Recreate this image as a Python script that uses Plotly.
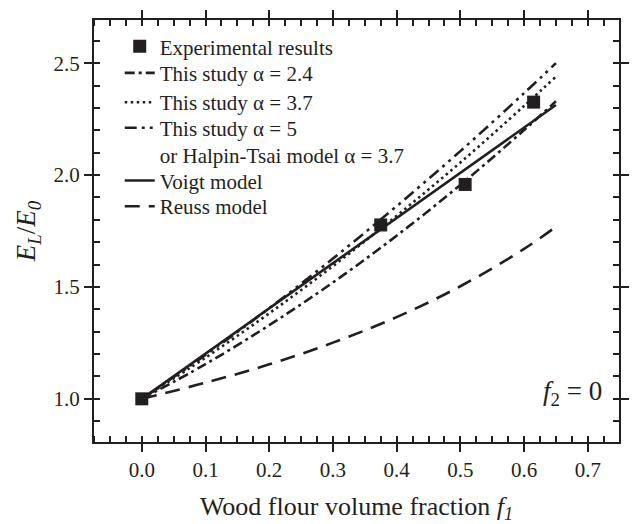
import plotly.graph_objects as go

# ---- data ----
f_exp = [0.0, 0.375, 0.5075, 0.615]
E_exp = [1.0, 1.777, 1.958, 2.326]

f_model = [0.0, 0.1, 0.2, 0.3, 0.4, 0.5, 0.6, 0.65]
E_alpha24 = [1.0, 1.155, 1.329, 1.520, 1.729, 1.956, 2.201, 2.330]
E_alpha37 = [1.0, 1.184, 1.382, 1.593, 1.818, 2.056, 2.309, 2.440]
E_alpha5 = [1.0, 1.196, 1.405, 1.627, 1.861, 2.107, 2.366, 2.500]
E_voigt = [1.0, 1.202, 1.404, 1.606, 1.808, 2.010, 2.212, 2.313]
E_reuss = [1.0, 1.072, 1.154, 1.251, 1.365, 1.503, 1.670, 1.769]

x_ticks = [0.0, 0.1, 0.2, 0.3, 0.4, 0.5, 0.6, 0.7]
y_ticks = [1.0, 1.5, 2.0, 2.5]

INK = "#231f20"
FONT = "Liberation Serif"
LEG_FONT = dict(family=FONT, size=21, color=INK)

fig = go.Figure()

def line_trace(y, name, dash, legend, shape="spline"):
    return go.Scatter(
        x=f_model, y=y, mode="lines", name=name, legend=legend,
        line=dict(color=INK, width=2.6, dash=dash, shape=shape),
    )

fig.add_trace(line_trace(E_alpha24, "This study α = 2.4", "10px,4px,3px,4px", "legend2"))
fig.add_trace(line_trace(E_alpha37, "This study α = 3.7", "2.5px,3.5px", "legend3"))
fig.add_trace(line_trace(E_alpha5, "This study α = 5<br>or Halpin-Tsai model α = 3.7",
                         "12px,5px,3px,5px,3px,5px", "legend4"))
fig.add_trace(line_trace(E_voigt, "Voigt model", "solid", "legend5", shape="linear"))
fig.add_trace(line_trace(E_reuss, "Reuss model", "15px,9px", "legend6"))
fig.add_trace(go.Scatter(
    x=f_exp, y=E_exp, mode="markers", name="Experimental results", legend="legend",
    marker=dict(symbol="square", size=13, color=INK, line=dict(width=0)),
))

axis_common = dict(
    showline=True, linecolor=INK, linewidth=2, mirror="ticks",
    ticks="outside", ticklen=8, tickwidth=2, tickcolor=INK,
    showgrid=False, zeroline=False,
    tickfont=dict(family=FONT, size=21, color=INK),
)

fig.update_xaxes(
    range=[-0.075, 0.749], tickvals=x_ticks, ticktext=[f"{v:.1f}" for v in x_ticks],
    minor=dict(ticks="inside", dtick=0.025, tick0=0, ticklen=6, tickwidth=1.5,
               tickcolor=INK, showgrid=False),
    title=dict(text="Wood flour volume fraction <i>f</i><sub><i>1</i></sub>",
               font=dict(family=FONT, size=26, color=INK), standoff=16),
    **axis_common,
)
fig.update_yaxes(
    range=[0.807, 2.693], tickvals=y_ticks, ticktext=[f"{v:.1f}" for v in y_ticks],
    minor=dict(ticks="inside", dtick=0.1, tick0=0, ticklen=6, tickwidth=1.5,
               tickcolor=INK, showgrid=False),
    title=dict(text="<i>E<sub>L</sub></i>/<i>E<sub>0</sub></i>",
               font=dict(family=FONT, size=27, color=INK), standoff=10),
    **axis_common,
)

fig.add_annotation(
    xref="paper", yref="paper", x=0.972, y=0.117, xanchor="right", yanchor="middle",
    text="<i>f</i><sub>2</sub> = 0", showarrow=False,
    font=dict(family=FONT, size=27, color=INK),
)

def leg(y):
    return dict(x=0.049, y=y, xanchor="left", yanchor="middle",
                bgcolor="rgba(0,0,0,0)", borderwidth=0, valign="top",
                font=LEG_FONT)

fig.update_layout(
    width=634, height=524,
    margin=dict(l=94, r=5, t=20, b=82),
    paper_bgcolor="white", plot_bgcolor="white",
    font=dict(family=FONT, color=INK),
    showlegend=True,
    legend=leg(0.9368),
    legend2=leg(0.8738),
    legend3=leg(0.8042),
    legend4=leg(0.7118),
    legend5=leg(0.6187),
    legend6=leg(0.5579),
)

fig.write_html("out.html")
